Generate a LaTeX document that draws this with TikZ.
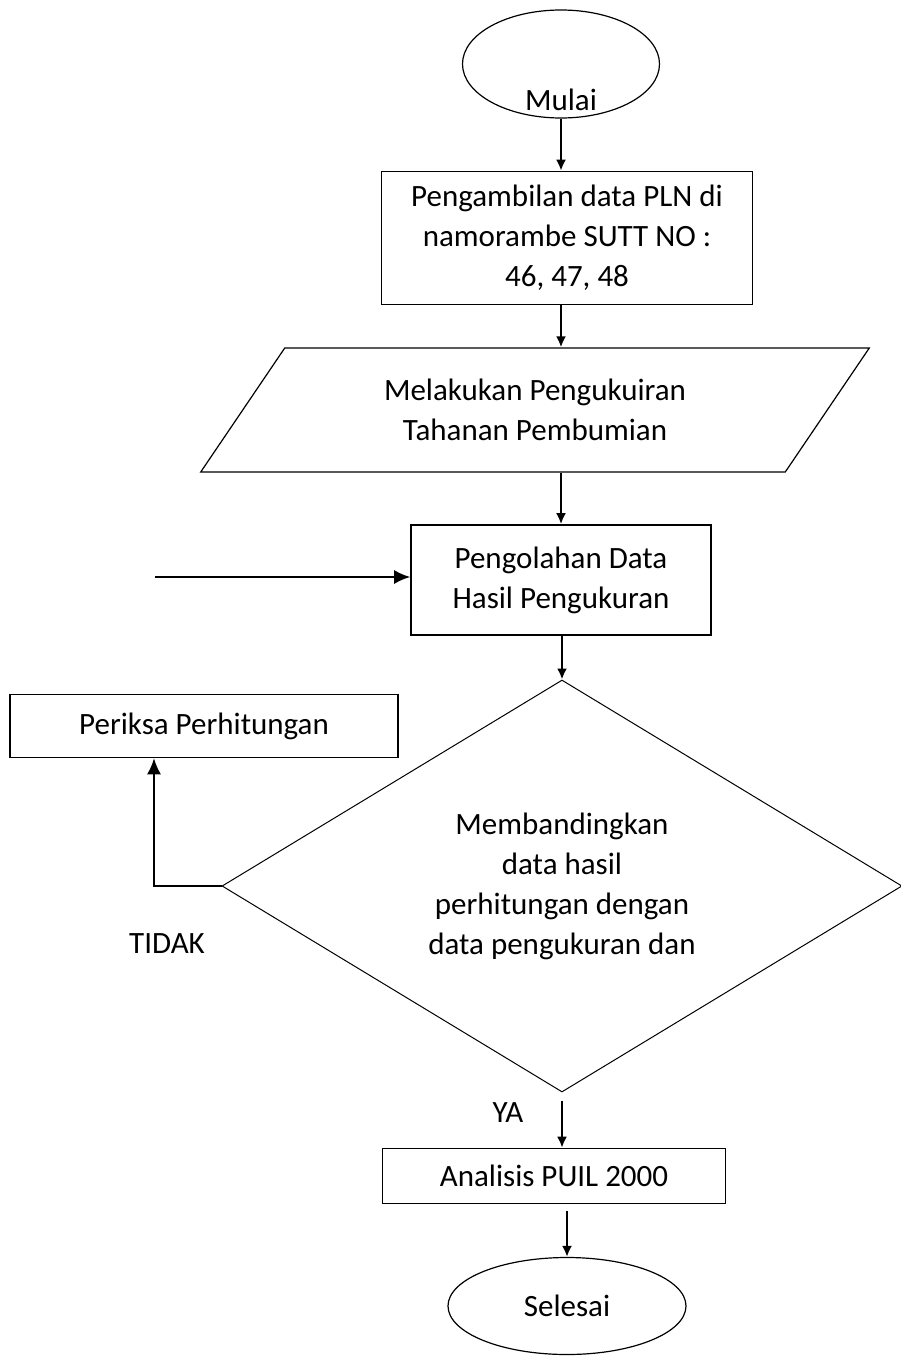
\documentclass[tikz,border=0pt]{standalone}
\usepackage{fontspec}
\setmainfont{Carlito}
\usetikzlibrary{shapes.geometric,arrows.meta}

\tikzset{
  terminal/.style={draw, ellipse, line width=1.2pt, inner sep=0pt},
  process/.style={draw, rectangle, line width=1.6pt, align=center, inner sep=3pt},
  inout/.style={draw, trapezium, trapezium left angle=52, trapezium right angle=128,
    trapezium stretches=true, line width=1.2pt, align=center, inner sep=2pt},
  decision/.style={draw, diamond, aspect=1.65, line width=1pt, align=center, inner sep=2pt},
  flow/.style={-{Latex[length=11pt,width=10pt]}, line width=2.2pt},
  side/.style={-{Latex[length=16pt,width=14pt]}, line width=1.8pt},
}

\begin{document}
\begin{tikzpicture}[x=1pt, y=-1pt, font=\fontsize{31}{40}\selectfont]
    \useasboundingbox (0,0) rectangle (901,1360);

    \node[terminal, minimum width=197pt, minimum height=108pt,
          label={[yshift=-36pt]center:Mulai}] (mulai) at (561, 64) {};
    \node[process, minimum width=371pt, minimum height=133pt] (ambil) at (567, 238)
        {Pengambilan data PLN di\\namorambe SUTT NO :\\46, 47, 48};
    \node[inout, minimum width=670pt, minimum height=124pt] (ukur) at (535, 410)
        {Melakukan Pengukuiran\\Tahanan Pembumian};
    \node[process, minimum width=300pt, minimum height=110pt] (olah) at (561, 580)
        {Pengolahan Data\\Hasil Pengukuran};
    \node[decision, minimum width=680pt, minimum height=412pt] (banding) at (562, 886)
        {Membandingkan\\data hasil\\perhitungan dengan\\data pengukuran dan};
    \node[process, minimum width=388pt, minimum height=63pt] (periksa) at (204, 726)
        {Periksa Perhitungan};
    \node[process, minimum width=343pt, minimum height=55pt] (analisis) at (554, 1176)
        {Analisis PUIL 2000};
    \node[terminal, minimum width=238pt, minimum height=97pt] (selesai) at (567, 1306)
        {Selesai};

    \node[] (tidak) at (167, 944) {TIDAK};
    \node[] (ya) at (508, 1113) {YA};

    \coordinate (masuk) at (155, 577);
    \coordinate (belok) at (154, 884);

    \draw[flow] (mulai.south) -- (mulai.south |- ambil.north);
    \draw[flow] (ambil.south -| mulai) -- (ukur.north -| mulai);
    \draw[flow] (ukur.south -| olah) -- (olah.north);
    \draw[flow] (olah.south -| banding.north) -- (banding.north);
    \draw[side] (masuk) -- (masuk -| olah.west);
    \draw[side] (banding.west) -| (belok |- periksa.south);
    \draw[flow, shorten <=8pt] (banding.south) -- (banding.south |- analisis.north);
    \draw[flow, shorten <=7pt] (analisis.south -| selesai) -- (selesai.north);
\end{tikzpicture}
\end{document}
